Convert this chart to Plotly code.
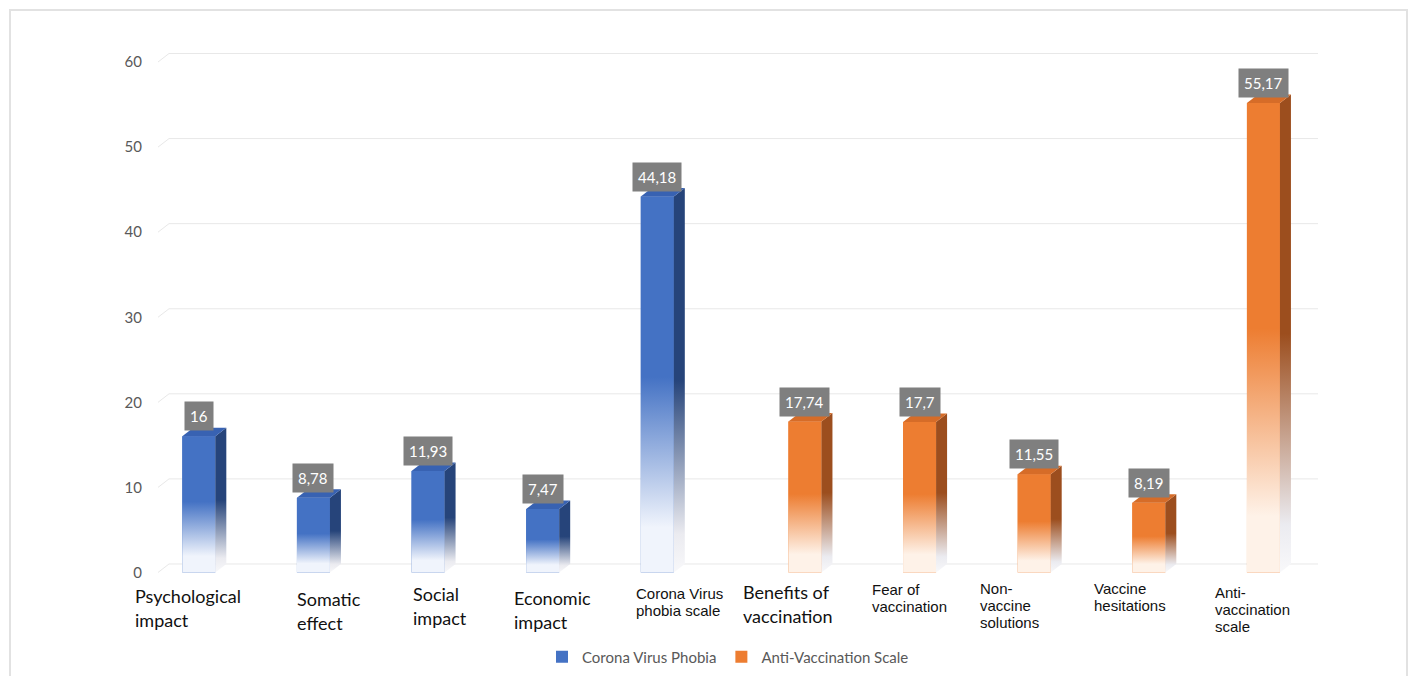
import plotly.graph_objects as go

# ---- data -------------------------------------------------------------
categories = [
    "Psychological impact", "Somatic effect", "Social impact", "Economic impact",
    "Corona Virus phobia scale", "Benefits of vaccination", "Fear of vaccination",
    "Non-vaccine solutions", "Vaccine hesitations", "Anti-vaccination scale",
]
category_lines = [
    ["Psychological", "impact"], ["Somatic", "effect"], ["Social", "impact"],
    ["Economic", "impact"], ["Corona Virus", "phobia scale"], ["Benefits of", "vaccination"],
    ["Fear of", "vaccination"], ["Non-", "vaccine", "solutions"], ["Vaccine", "hesitations"],
    ["Anti-", "vaccination", "scale"],
]
phobia_categories = categories[:5]
phobia_values = [16, 8.78, 11.93, 7.47, 44.18]
antivax_categories = categories[5:]
antivax_values = [17.74, 17.7, 11.55, 8.19, 55.17]
y_ticks = [0, 10, 20, 30, 40, 50, 60]

# ---- layout constants -------------------------------------------------
W_PX, H_PX = 1412, 676
L, T, PW, PH = 158, 45, 1160, 536
X_RANGE = [-0.5, 9.62]
Y_RANGE = [-1, 62]
BAR_W = 0.288          # front face width in category units
DX, DZ = 0.096, 1.0    # depth offset of the 3D faces (x units, y units)

BLUE, BLUE_SIDE, BLUE_TOP, BLUE_LIGHT = "rgb(68,114,196)", "rgb(38,68,122)", "rgb(56,98,178)", "rgb(240,244,252)"
ORNG, ORNG_SIDE, ORNG_TOP, ORNG_LIGHT = "rgb(237,125,49)", "rgb(156,78,30)", "rgb(214,108,40)", "rgb(254,242,232)"

# label styles: big Calibri-like text or small Arial-like text
label_big = [True, True, True, True, False, True, False, False, False, False]
label_dx_px = [-81, -34, -33, -46, -39, -46, -32, -39, -39, -33]
label_top_px = [590, 593, 588, 592, 589, 586, 585, 584, 584, 588]


def px_to_paper_x(px):
    return (px - L) / PW


def px_to_paper_y(py):
    return 1 - (py - T) / PH


def fmt(v):
    return f"{v:g}".replace(".", ",")


fig = go.Figure()

series = [
    ("Corona Virus Phobia", phobia_categories, phobia_values, -BAR_W, BLUE, BLUE_SIDE, BLUE_TOP, BLUE_LIGHT),
    ("Anti-Vaccination Scale", antivax_categories, antivax_values, 0.0, ORNG, ORNG_SIDE, ORNG_TOP, ORNG_LIGHT),
]

# front faces as bars (also provide the legend swatches)
for name, cats, vals, off, col, side, top, light in series:
    xs = [categories.index(c) for c in cats]
    fig.add_trace(go.Bar(
        x=xs, y=vals, name=name, width=BAR_W, offset=off,
        marker=dict(color=col, line=dict(width=0)), hoverinfo="skip",
    ))

# gradient front, side and top faces
for name, cats, vals, off, col, side, top, light in series:
    for c, v in zip(cats, vals):
        i = categories.index(c)
        x0, x1 = i + off, i + off + BAR_W
        fig.add_trace(go.Scatter(
            x=[x0, x1, x1, x0, x0], y=[0, 0, v, v, 0], mode="lines", fill="toself",
            line=dict(width=0), showlegend=False, hoverinfo="skip",
            fillgradient=dict(type="vertical", start=0, stop=v,
                              colorscale=[[0, light], [0.12, light], [0.52, col], [1, col]]),
        ))
        fig.add_trace(go.Scatter(
            x=[x1, x1 + DX, x1 + DX, x1, x1], y=[0, DZ, v + DZ, v, 0], mode="lines", fill="toself",
            line=dict(width=0), showlegend=False, hoverinfo="skip",
            fillgradient=dict(type="vertical", start=0, stop=v + DZ,
                              colorscale=[[0, "rgb(248,248,250)"], [0.1, "rgb(235,235,240)"],
                                          [0.5, side], [1, side]]),
        ))
        fig.add_trace(go.Scatter(
            x=[x0, x0 + DX, x1 + DX, x1, x0], y=[v, v + DZ, v + DZ, v, v], mode="lines", fill="toself",
            fillcolor=top, line=dict(width=0), showlegend=False, hoverinfo="skip",
        ))
        # value label
        fig.add_annotation(
            x=i + off + BAR_W / 2, y=v, xref="x", yref="y", text=fmt(v), showarrow=False,
            yanchor="bottom", yshift=5, bgcolor="#7F7F7F", borderpad=5,
            font=dict(family="Lato", size=15, color="white"),
        )

# back-wall gridlines with a short receding segment
shapes = []
for t in y_ticks:
    shapes.append(dict(type="line", xref="x", yref="y", x0=X_RANGE[0], y0=t,
                       x1=X_RANGE[0] + DX, y1=t + DZ, line=dict(color="#E8E8E8", width=1), layer="below"))
    shapes.append(dict(type="line", xref="x", yref="y", x0=X_RANGE[0] + DX, y0=t + DZ,
                       x1=X_RANGE[1], y1=t + DZ, line=dict(color="#E8E8E8", width=1), layer="below"))
# outer frame
shapes.append(dict(type="rect", xref="paper", yref="paper",
                   x0=px_to_paper_x(10), x1=px_to_paper_x(1407),
                   y0=px_to_paper_y(10), y1=px_to_paper_y(700),
                   line=dict(color="#E2E2E2", width=2), fillcolor="rgba(0,0,0,0)", layer="above"))

# category labels, one annotation per line
for i, lines in enumerate(category_lines):
    big = label_big[i]
    size = 18 if big else 15
    spacing = 23.5 if big else 17
    family = "Lato" if big else "Liberation Sans"
    for k, line in enumerate(lines):
        top_px = label_top_px[i] + k * spacing - (0.32 * size)
        fig.add_annotation(
            x=i, xref="x", xshift=label_dx_px[i], xanchor="left",
            y=px_to_paper_y(top_px), yref="paper", yanchor="top",
            text=line, showarrow=False, borderpad=0,
            font=dict(family=family, size=size, color="#111111"),
        )

fig.update_layout(
    width=W_PX, height=H_PX,
    margin=dict(l=L, r=W_PX - L - PW, t=T, b=H_PX - T - PH, autoexpand=False),
    paper_bgcolor="white", plot_bgcolor="white",
    barmode="overlay", shapes=shapes,
    xaxis=dict(range=X_RANGE, showgrid=False, zeroline=False, showticklabels=False,
               showline=False, fixedrange=True),
    yaxis=dict(range=Y_RANGE, tickvals=y_ticks, showgrid=False, zeroline=False, showline=False,
               ticks="outside", ticklen=12, tickcolor="rgba(0,0,0,0)",
               tickfont=dict(family="Lato", size=15, color="#595959"), fixedrange=True),
    legend=dict(orientation="h", x=px_to_paper_x(728), xanchor="center",
                y=px_to_paper_y(657), yanchor="middle",
                font=dict(family="Lato", size=15, color="#595959"),
                itemwidth=30, traceorder="normal"),
    showlegend=True,
)

fig.write_html("out.html")
